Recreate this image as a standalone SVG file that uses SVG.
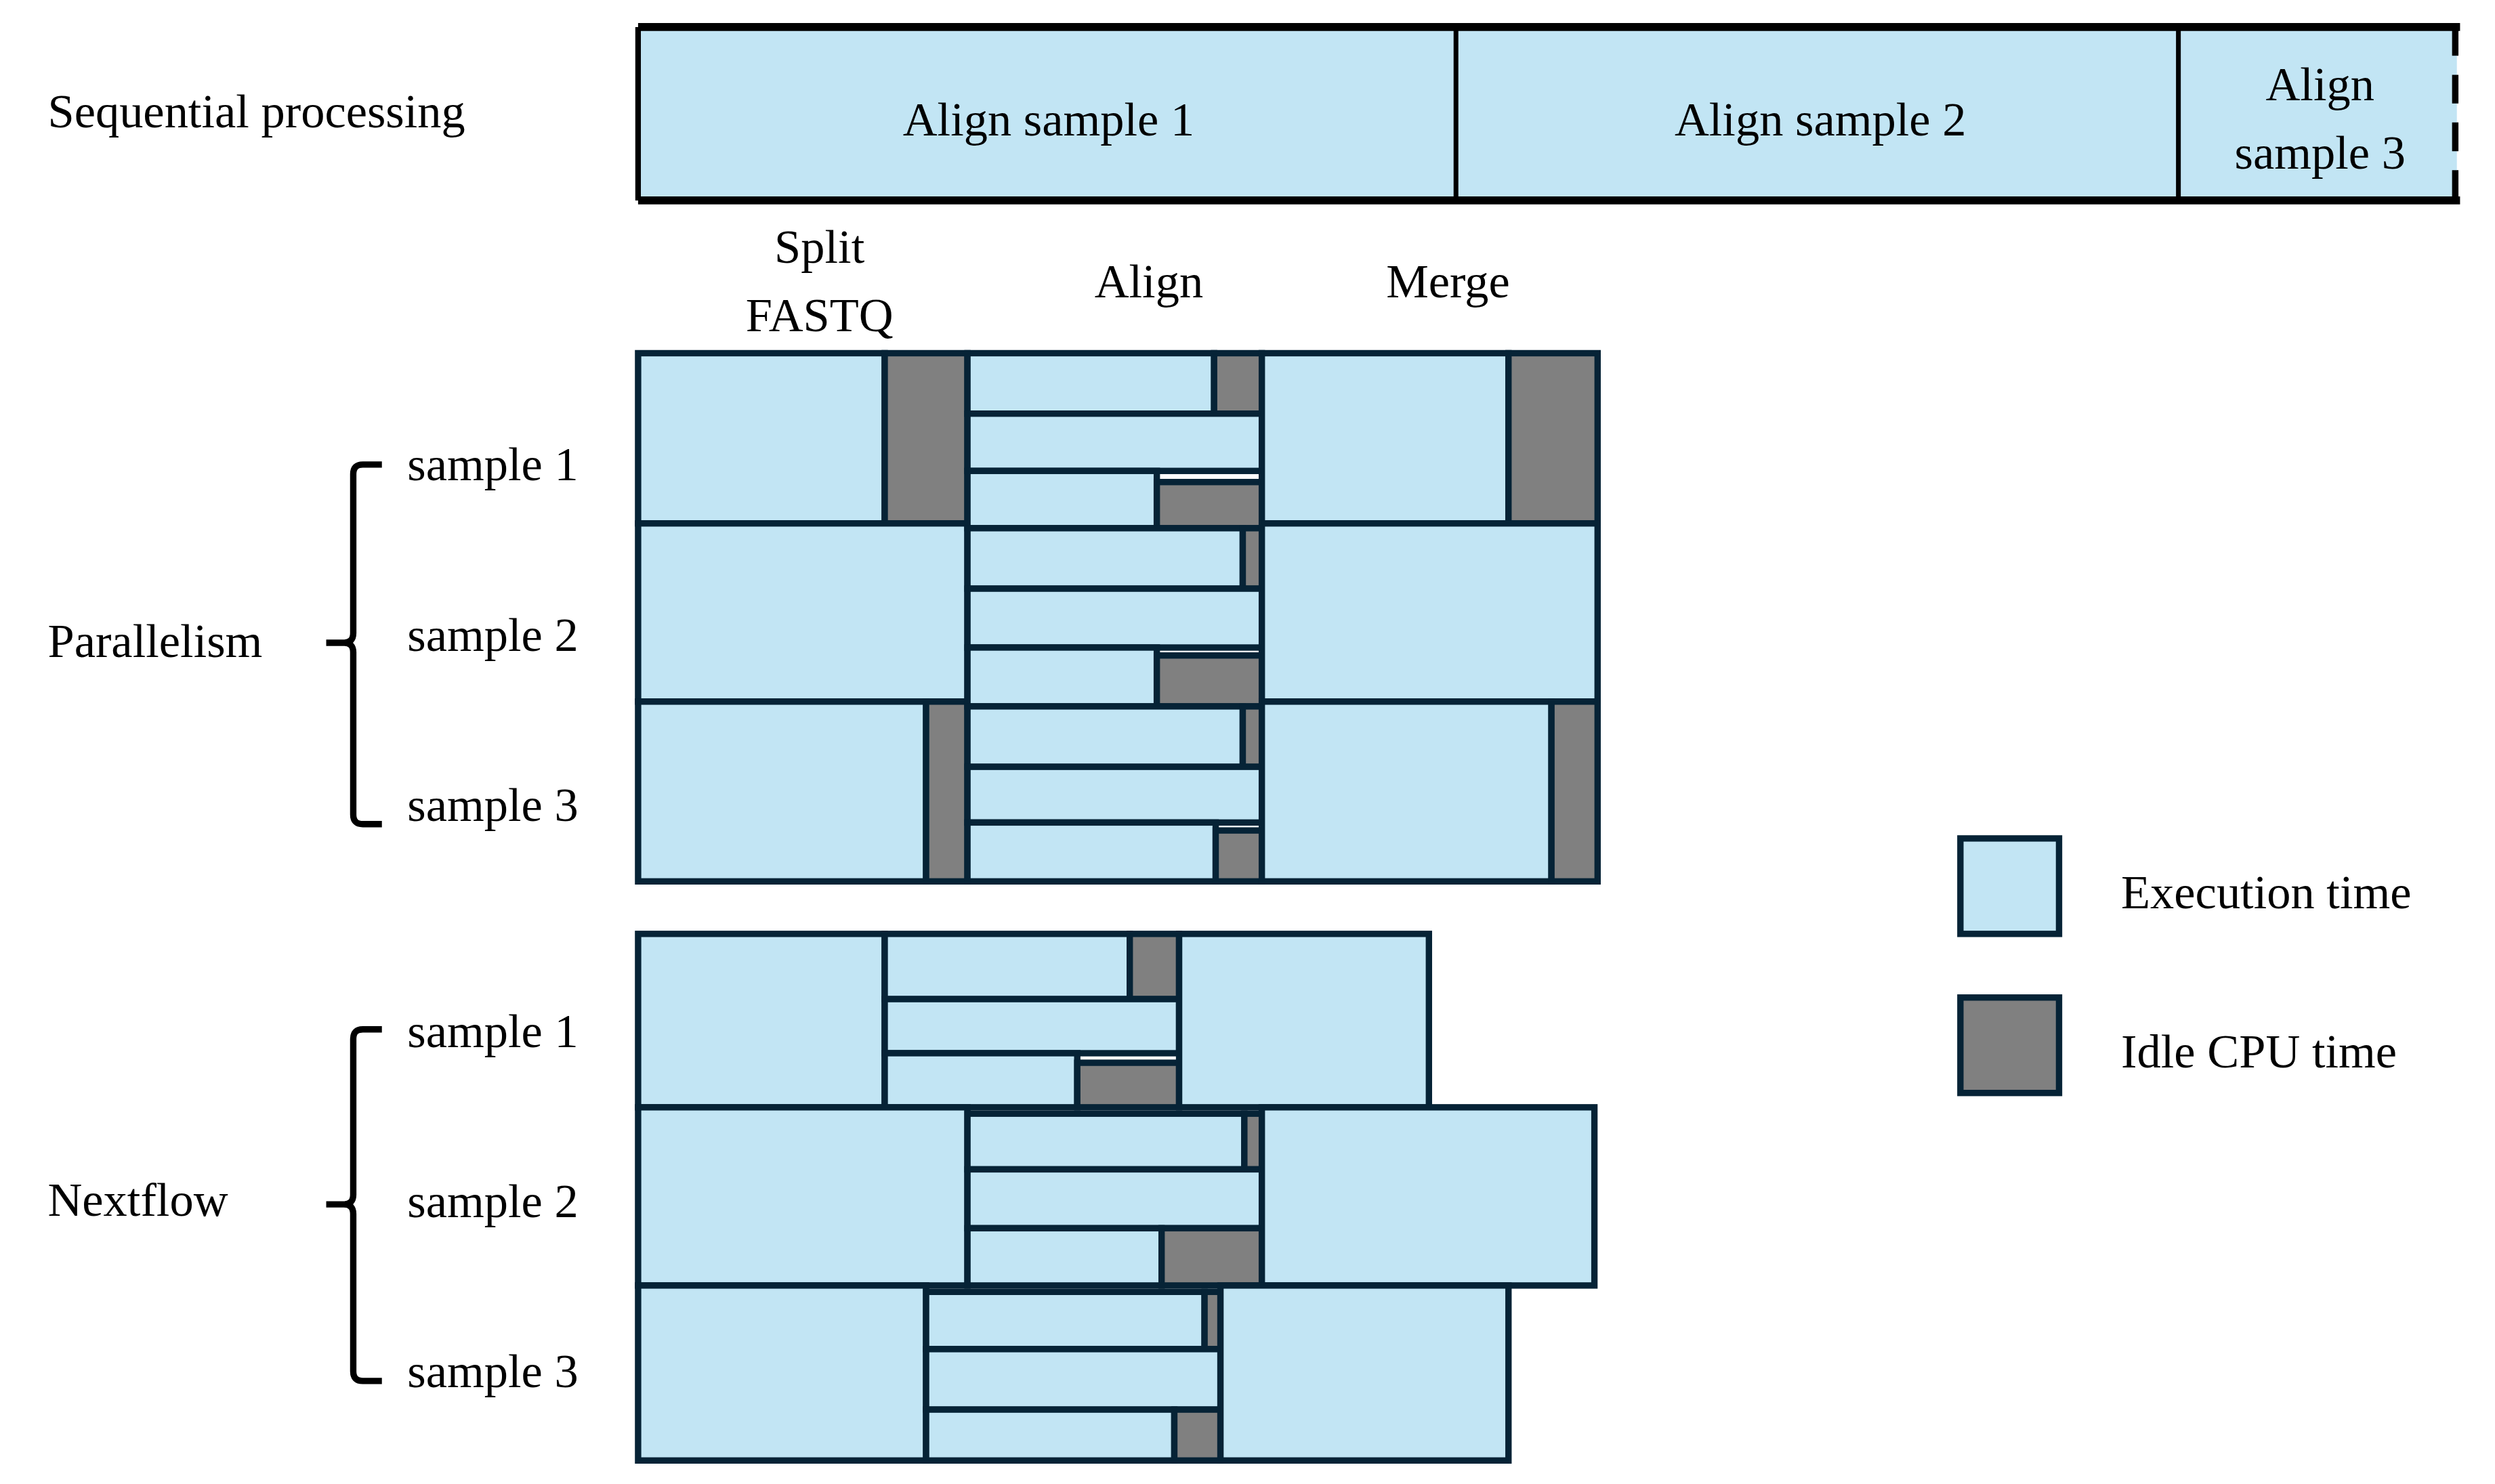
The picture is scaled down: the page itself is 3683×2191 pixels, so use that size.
<svg xmlns="http://www.w3.org/2000/svg" width="3683" height="2191" viewBox="0 0 3683 2191">
<style>
.e{fill:#C2E5F4;stroke:#062336;stroke-width:4}
.i{fill:#808080;stroke:#062336;stroke-width:4}
.t{font-family:"Liberation Serif",serif;font-size:30px;fill:#000}
.m{text-anchor:middle}
.b{fill:none;stroke:#000;stroke-width:4}
</style>
<rect width="3683" height="2191" fill="#fff"/>
<g transform="scale(2.3489)">
<g id="sequential">
<rect x="401" y="17" width="1143" height="109" fill="#C2E5F4"/>
<line x1="401" y1="17" x2="1546" y2="17" stroke="#000" stroke-width="5"/>
<line x1="401" y1="126" x2="1546" y2="126" stroke="#000" stroke-width="5"/>
<line x1="401" y1="17" x2="401" y2="126" stroke="#000" stroke-width="3.5"/>
<line x1="915" y1="17" x2="915" y2="126" stroke="#000" stroke-width="3"/>
<line x1="1369" y1="17" x2="1369" y2="126" stroke="#000" stroke-width="3"/>
<line x1="1543" y1="17" x2="1543" y2="126" stroke="#000" stroke-width="4" stroke-dasharray="18,12"/>
<text class="t" x="30" y="80">Sequential processing</text>
<text class="t m" x="659" y="85">Align sample 1</text>
<text class="t m" x="1144" y="85">Align sample 2</text>
<text class="t m" x="1458" y="63">Align</text>
<text class="t m" x="1458" y="106">sample 3</text>
</g>
<g id="headers">
<text class="t m" x="515" y="165">Split</text>
<text class="t m" x="515" y="208">FASTQ</text>
<text class="t m" x="722" y="187">Align</text>
<text class="t m" x="910" y="187">Merge</text>
</g>
<g id="parallel">
<rect class="e" x="401" y="222" width="155" height="107"/><rect class="i" x="556" y="222" width="52" height="107"/>
<rect class="e" x="401" y="329" width="207" height="112"/>
<rect class="e" x="401" y="441" width="181" height="113"/><rect class="i" x="582" y="441" width="26" height="113"/>
<rect class="e" x="608" y="222" width="155" height="38"/><rect class="i" x="763" y="222" width="30" height="38"/>
<rect class="e" x="608" y="260" width="185" height="36"/>
<rect class="e" x="608" y="296" width="119" height="36"/><rect class="i" x="727" y="303" width="66" height="29"/>
<rect class="e" x="608" y="332" width="173" height="38"/><rect class="i" x="781" y="332" width="12" height="38"/>
<rect class="e" x="608" y="370" width="185" height="37"/>
<rect class="e" x="608" y="407" width="119" height="37"/><rect class="i" x="727" y="412" width="66" height="32"/>
<rect class="e" x="608" y="444" width="173" height="38"/><rect class="i" x="781" y="444" width="12" height="38"/>
<rect class="e" x="608" y="482" width="185" height="35"/>
<rect class="e" x="608" y="517" width="156" height="37"/><rect class="i" x="764" y="522" width="29" height="32"/>
<rect class="e" x="793" y="222" width="155" height="107"/><rect class="i" x="948" y="222" width="56" height="107"/>
<rect class="e" x="793" y="329" width="211" height="112"/>
<rect class="e" x="793" y="441" width="182" height="113"/><rect class="i" x="975" y="441" width="29" height="113"/>
</g>
<g id="nextflow">
<rect class="e" x="401" y="587" width="155" height="109"/>
<rect class="e" x="556" y="587" width="154" height="41"/><rect class="i" x="710" y="587" width="31" height="41"/>
<rect class="e" x="556" y="628" width="185" height="34"/>
<rect class="e" x="556" y="662" width="121" height="34"/><rect class="i" x="677" y="668" width="64" height="28"/>
<rect class="e" x="741" y="587" width="157" height="109"/>
<rect class="e" x="401" y="696" width="207" height="112"/>
<rect class="e" x="608" y="700" width="174" height="35"/><rect class="i" x="782" y="700" width="11" height="35"/>
<rect class="e" x="608" y="735" width="185" height="37"/>
<rect class="e" x="608" y="772" width="122" height="36"/><rect class="i" x="730" y="772" width="63" height="36"/>
<rect class="e" x="793" y="696" width="209" height="112"/>
<rect class="e" x="401" y="808" width="181" height="110"/>
<rect class="e" x="582" y="812" width="175" height="36"/><rect class="i" x="757" y="812" width="10" height="36"/>
<rect class="e" x="582" y="848" width="185" height="38"/>
<rect class="e" x="582" y="886" width="156" height="32"/><rect class="i" x="738" y="886" width="29" height="32"/>
<rect class="e" x="767" y="808" width="181" height="110"/>
</g>
<g id="labels">
<path class="b" d="M240,292 H228 Q222,292 222,298 V398 Q222,404 216,404 H205 M216,404 Q222,404 222,410 V512 Q222,518 228,518 H240"/>
<text class="t" x="30" y="413">Parallelism</text>
<text class="t" x="256" y="302">sample 1</text>
<text class="t" x="256" y="409">sample 2</text>
<text class="t" x="256" y="516">sample 3</text>
<path class="b" d="M240,647 H228 Q222,647 222,653 V751 Q222,757 216,757 H205 M216,757 Q222,757 222,763 V862 Q222,868 228,868 H240"/>
<text class="t" x="30" y="764">Nextflow</text>
<text class="t" x="256" y="658">sample 1</text>
<text class="t" x="256" y="765">sample 2</text>
<text class="t" x="256" y="872">sample 3</text>
</g>
<g id="legend">
<rect class="e" x="1232" y="527" width="62" height="60"/>
<rect class="i" x="1232" y="627" width="62" height="60"/>
<text class="t" x="1333" y="571">Execution time</text>
<text class="t" x="1333" y="671">Idle CPU time</text>
</g>
</g>
</svg>
